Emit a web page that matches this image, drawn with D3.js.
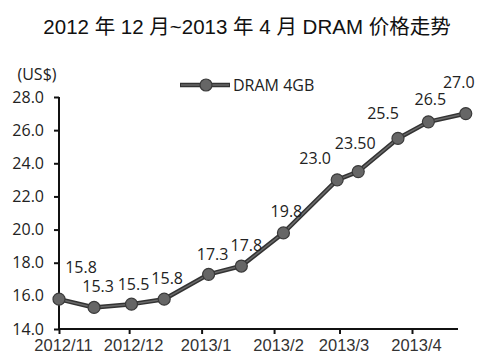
<!DOCTYPE html>
<html>
<head>
<meta charset="utf-8">
<script src="https://cdn.jsdelivr.net/npm/d3@7"></script>
<style>
  body { margin: 0; background: #fff; }
  svg { display: block; }
</style>
</head>
<body>
<div id="chart"></div>
<script>
// data
var dates = ['2012-11-01', '2012-11-16', '2012-12-02', '2012-12-16', '2013-01-04', '2013-01-18',
  '2013-02-05', '2013-02-28', '2013-03-09', '2013-03-26', '2013-04-08', '2013-04-24'];
var prices = [15.8, 15.3, 15.5, 15.8, 17.3, 17.8, 19.8, 23.0, 23.5, 25.5, 26.5, 27.0];
var priceLabels = ['15.8', '15.3', '15.5', '15.8', '17.3', '17.8', '19.8', '23.0', '23.50', '25.5', '26.5', '27.0'];
var monthTicks = ['2012-11-01', '2012-12-01', '2013-01-01', '2013-02-01', '2013-03-01', '2013-04-01'];
var monthLabels = ['2012/11', '2012/12', '2013/1', '2013/2', '2013/3', '2013/4'];
var yTicks = [14, 16, 18, 20, 22, 24, 26, 28];
var seriesName = 'DRAM 4GB';
var unit = '(US$)';
var title = '2012 年 12 月~2013 年 4 月 DRAM 价格走势';

var parse = d3.timeParse('%Y-%m-%d');
var data = dates.map((d, i) => ({ date: parse(d), value: prices[i], label: priceLabels[i] }));

var width = 500, height = 364;
var svg = d3.select('#chart').append('svg').attr('width', width).attr('height', height);

var x = d3.scaleTime()
  .domain([parse('2012-11-01'), parse('2013-04-01')])
  .range([59, 412]);

var y = d3.scaleLinear()
  .domain([14, 28])
  .range([329, 97]);

var numFont = '"Open Sans", "DejaVu Sans", sans-serif';

// title
svg.append('text')
  .attr('x', 247)
  .attr('y', 34)
  .attr('text-anchor', 'middle')
  .attr('font-family', '"Liberation Sans", "Noto Sans CJK SC", sans-serif')
  .attr('font-size', 20.5)
  .attr('fill', '#111')
  .text(title);

// unit
svg.append('text')
  .attr('x', 37)
  .attr('y', 80)
  .attr('text-anchor', 'middle')
  .attr('font-family', numFont)
  .attr('font-size', 16)
  .attr('fill', '#222')
  .text(unit);

// y axis
var yAxis = svg.append('g')
  .attr('transform', 'translate(59,0)')
  .call(d3.axisLeft(y).tickValues(yTicks).tickFormat(d3.format('.1f')).tickSize(5).tickPadding(10));
yAxis.select('.domain').attr('d', 'M0,' + y(28) + 'V' + y(14)).attr('stroke', '#111').attr('stroke-width', 2);
yAxis.selectAll('.tick line').attr('stroke', '#111').attr('stroke-width', 2);
yAxis.selectAll('.tick text')
  .attr('font-family', numFont)
  .attr('font-size', 16)
  .attr('fill', '#222');

// x axis
var xAxis = svg.append('g')
  .attr('transform', 'translate(0,' + y(14) + ')')
  .call(d3.axisBottom(x).tickValues(monthTicks.map(parse))
    .tickFormat((d, i) => monthLabels[i]).tickSize(5).tickPadding(5));
xAxis.select('.domain').attr('d', 'M58,0H458').attr('stroke', '#111').attr('stroke-width', 2);
xAxis.selectAll('.tick line').attr('stroke', '#111').attr('stroke-width', 2);
xAxis.selectAll('.tick text')
  .attr('dx', 4)
  .attr('font-family', '"Liberation Sans", Arial, sans-serif')
  .attr('font-size', 16.5)
  .attr('fill', '#333');

// series line
var line = d3.line().x((d) => x(d.date)).y((d) => y(d.value));

svg.append('path')
  .datum(data)
  .attr('d', line)
  .attr('fill', 'none')
  .attr('stroke', '#333')
  .attr('stroke-width', 4.5)
  .attr('stroke-linejoin', 'round');

svg.append('path')
  .datum(data)
  .attr('d', line)
  .attr('fill', 'none')
  .attr('stroke', '#6a6a6a')
  .attr('stroke-width', 1.5)
  .attr('stroke-linejoin', 'round');

svg.selectAll('.dot').data(data)
  .join('circle')
  .attr('class', 'dot')
  .attr('cx', (d) => x(d.date))
  .attr('cy', (d) => y(d.value))
  .attr('r', 6)
  .attr('fill', '#666')
  .attr('stroke', '#3a3a3a')
  .attr('stroke-width', 1.2);

// value labels, nudged like the original
var nudge = [[22, -32], [4, -21], [2, -20], [3, -21], [4, -20], [5, -21],
  [3, -21], [-22, -21], [-3, -28], [-15, -25], [2, -22], [-7, -31]];

svg.selectAll('.val').data(data)
  .join('text')
  .attr('class', 'val')
  .attr('x', (d, i) => x(d.date) + nudge[i][0])
  .attr('y', (d, i) => y(d.value) + nudge[i][1])
  .attr('dy', '0.35em')
  .attr('text-anchor', 'middle')
  .attr('font-family', numFont)
  .attr('font-size', 16)
  .attr('fill', '#222')
  .text((d) => d.label);

// legend
var legend = svg.append('g').attr('transform', 'translate(180,85)');
legend.append('line').attr('x1', 0).attr('x2', 50).attr('stroke', '#333').attr('stroke-width', 4.5);
legend.append('line').attr('x1', 1).attr('x2', 49).attr('stroke', '#6a6a6a').attr('stroke-width', 1.5);
legend.append('circle').attr('cx', 26).attr('r', 6).attr('fill', '#666').attr('stroke', '#3a3a3a').attr('stroke-width', 1.2);
legend.append('text')
  .attr('x', 53)
  .attr('dy', '0.35em')
  .attr('font-family', numFont)
  .attr('font-size', 16)
  .attr('fill', '#222')
  .text(seriesName);
</script>
</body>
</html>
